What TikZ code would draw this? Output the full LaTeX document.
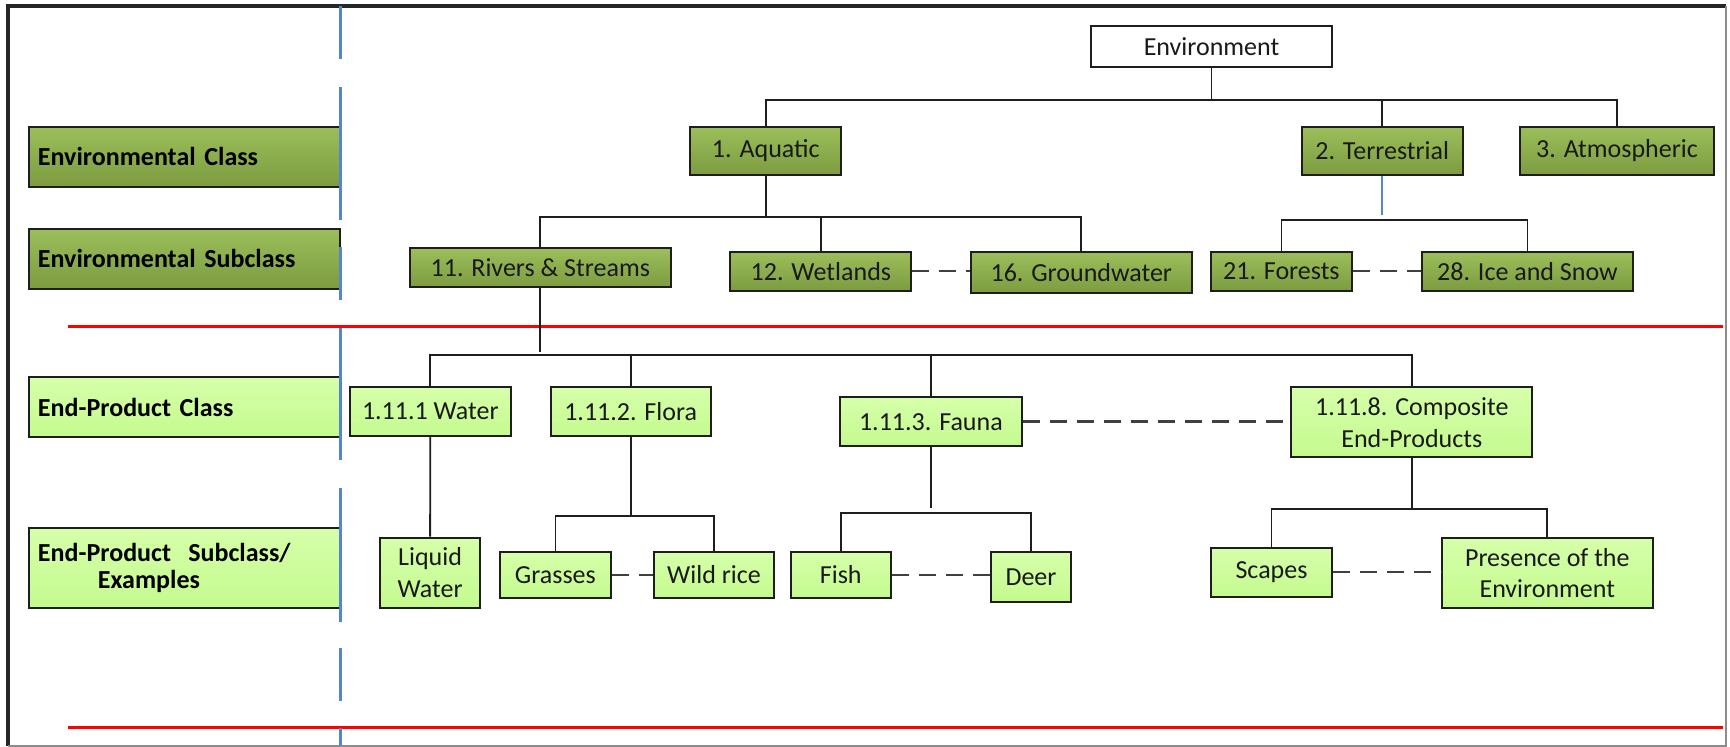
\documentclass[tikz,border=0pt]{standalone}
\usepackage{fontspec}
\setmainfont{Carlito}
\definecolor{dkgtop}{RGB}{156,190,90}
\definecolor{dkgbot}{RGB}{124,156,64}
\definecolor{ltgtop}{RGB}{214,255,170}
\definecolor{ltgbot}{RGB}{196,250,142}
\definecolor{edge}{RGB}{30,30,30}
\definecolor{guide}{RGB}{84,134,200}
\begin{document}
\begin{tikzpicture}[x=0.5pt,y=-0.5pt,
  box/.style={draw=edge, line width=1pt, inner sep=0pt, align=center,
    font=\fontsize{13}{15.9}\selectfont, text=black!90},
  dark/.style={box, top color=dkgtop, bottom color=dkgbot},
  light/.style={box, top color=ltgtop, bottom color=ltgbot},
  plain/.style={box, fill=white},
  label/.style={draw=edge, line width=1pt, inner xsep=4.5pt, inner ysep=0pt,
    text width=146.35pt, align=left, minimum width=155.35pt,
    font=\fontsize{13}{13.3}\selectfont\bfseries},
  conn/.style={draw=edge, line width=0.9pt},
  link/.style={draw=edge!85, line width=1.2pt, dash pattern=on 8.5pt off 5pt},
  redline/.style={draw=red, line width=1.5pt},
  guideline/.style={draw=guide, line width=1.5pt}]
\useasboundingbox (0,0) rectangle (1730,747);

% outer frame
\draw[black!85, line width=1.6pt] (8,746) -- (8,6) -- (1726,6);
\draw[black!45, line width=0.8pt] (1726,6) -- (1726,746) -- (8,746);

% red separators
\draw[redline] (68,327) -- (1723,327);
\draw[redline] (68,728) -- (1723,728);

% row labels
\node[label, top color=dkgtop, bottom color=dkgbot, minimum height=30pt] (lc1) at (184.3,156.7) {Environmental Class};
\node[label, top color=dkgtop, bottom color=dkgbot, minimum height=30pt] (lc2) at (184.3,258.7) {Environmental Subclass};
\node[label, top color=ltgtop, bottom color=ltgbot, minimum height=30pt] (lc3) at (184.3,407.3) {End-Product Class};
\node[label, top color=ltgtop, bottom color=ltgbot, minimum height=40pt] (lc4) at (184.3,567.7) {End-Product\ \ Subclass/\\\hspace*{30pt}Examples};

% tree nodes
\node[plain, minimum width=120.5pt, minimum height=20.35pt] (env) at (1211.5,46.3) {Environment};
\node[dark, minimum width=75.6pt, minimum height=24.3pt] (aq) at (765.8,151) {1. Aquatic};
\node[dark, minimum width=80.5pt, minimum height=24.3pt] (ter) at (1382.2,151) {2. Terrestrial};
\node[dark, minimum width=97pt, minimum height=24.3pt] (atm) at (1617,151) {3. Atmospheric};

\node[dark, minimum width=130.35pt, minimum height=19.5pt] (riv) at (540.3,267.8) {11. Rivers \& Streams};
\node[dark, minimum width=90.5pt, minimum height=19.35pt] (wet) at (820.9,271.3) {12. Wetlands};
\node[dark, minimum width=110.55pt, minimum height=20.35pt] (gw) at (1081.3,272.3) {16. Groundwater};
\node[dark, minimum width=70.35pt, minimum height=19.35pt] (for) at (1281.4,271.3) {21. Forests};
\node[dark, minimum width=105.5pt, minimum height=19.35pt] (ice) at (1527.5,271.3) {28. Ice and Snow};

\node[light, minimum width=80.25pt, minimum height=24.35pt] (wat) at (430.3,411.7) {1.11.1 Water};
\node[light, minimum width=80.15pt, minimum height=24.35pt] (flo) at (630.7,411.7) {1.11.2. Flora};
\node[light, minimum width=90.7pt, minimum height=24.35pt] (fau) at (930.9,421.7) {1.11.3. Fauna};
\node[light, minimum width=120.45pt, minimum height=35pt] (comp) at (1411.8,422.3) {1.11.8. Composite\\End-Products};

\node[light, minimum width=50.1pt, minimum height=35pt] (liq) at (430.1,572.7) {Liquid\\Water};
\node[light, minimum width=55.2pt, minimum height=22.7pt] (gra) at (555.4,575) {Grasses};
\node[light, minimum width=60.45pt, minimum height=22.7pt] (wr) at (714,575) {Wild rice};
\node[light, minimum width=50.3pt, minimum height=22.7pt] (fish) at (840.8,575) {Fish};
\node[light, minimum width=40.4pt, minimum height=24.7pt] (deer) at (1031,577) {Deer};
\node[light, minimum width=60.5pt, minimum height=24.5pt] (sca) at (1271.5,572.2) {Scapes};
\node[light, minimum width=105.25pt, minimum height=35.3pt] (pres) at (1547.3,573) {Presence of the\\Environment};

% hierarchy connectors
\draw[conn] (env.south) -- (env.south|-0,100);
\draw[conn] (aq.north) -- (aq.north|-0,100) -- (atm.north|-0,100) -- (atm.north);
\draw[conn] (ter.north) -- (ter.north|-0,100);

\draw[conn] (aq.south) -- (aq.south|-0,216.7);
\draw[conn] (riv.north) -- (riv.north|-0,216.7) -- (gw.north|-0,216.7) -- (gw.north);
\draw[conn] (wet.north) -- (wet.north|-0,216.7);

\draw[draw=guide, line width=0.9pt] (ter.south) -- (ter.south|-0,215);
\draw[conn] (for.north) -- (for.north|-0,220) -- (ice.north|-0,220) -- (ice.north);

\draw[conn] (riv.south) -- (riv.south|-0,352);
\draw[conn] (wat.north) -- (wat.north|-0,355) -- (comp.north|-0,355) -- (comp.north);
\draw[conn] (flo.north) -- (flo.north|-0,355);
\draw[conn] (fau.north) -- (fau.north|-0,355);

\draw[conn] (wat.south) -- (liq.north);
\draw[conn] (flo.south) -- (flo.south|-0,516);
\draw[conn] (gra.north) -- (gra.north|-0,516) -- (wr.north|-0,516) -- (wr.north);
\draw[conn] (fau.south) -- (fau.south|-0,508.3);
\draw[conn] (fish.north) -- (fish.north|-0,512.7) -- (deer.north|-0,512.7) -- (deer.north);
\draw[conn] (comp.south) -- (comp.south|-0,509.3);
\draw[conn] (sca.north) -- (sca.north|-0,509.3) -- (pres.north|-0,509.3) -- (pres.north);

% sibling links
\draw[link] (wet.east) -- (wet.east-|gw.west);
\draw[link] (for.east) -- (ice.west);
\draw[link] (fau.east) -- (fau.east-|comp.west);
\draw[link] (gra.east) -- (wr.west);
\draw[link] (fish.east) -- (fish.east-|deer.west);
\draw[link] (sca.east) -- (sca.east-|pres.west);

% dashed guide between the row labels and the tree
\foreach \a/\b in {6/59, 87/220, 247/300, 328/460, 488/622, 648/701, 728/746}
  \draw[guideline] (340,\a) -- (340,\b);
\end{tikzpicture}
\end{document}
